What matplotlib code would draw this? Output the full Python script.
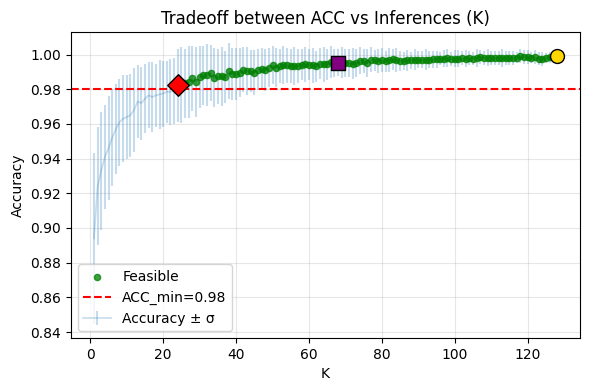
import numpy as np
import matplotlib
matplotlib.use("Agg")
import matplotlib.pyplot as plt

# mean accuracy per K (K = 1..128)
acc_mean = [
    0.894, 0.924, 0.933, 0.941, 0.946, 0.952, 0.957, 0.961, 0.963, 0.964,
    0.965, 0.968, 0.973, 0.972, 0.9745, 0.9765, 0.9755, 0.9765, 0.977, 0.9775,
    0.9785, 0.9785, 0.979, 0.9823, 0.9823, 0.9833, 0.9842, 0.9862, 0.9842, 0.9871,
    0.988, 0.9883, 0.9894, 0.9865, 0.9874, 0.9876, 0.9868, 0.9904, 0.9885, 0.9887,
    0.9896, 0.9913, 0.9906, 0.9904, 0.9894, 0.9913, 0.9915, 0.9912, 0.9925, 0.9938,
    0.9925, 0.9934, 0.9938, 0.9938, 0.9934, 0.9932, 0.9934, 0.9942, 0.9944, 0.9942,
    0.9938, 0.9932, 0.9948, 0.9944, 0.9944, 0.9957, 0.9953, 0.9954, 0.9953, 0.9953,
    0.9953, 0.9948, 0.9951, 0.9965, 0.9962, 0.9950, 0.9971, 0.9967, 0.9963, 0.9967,
    0.9962, 0.9967, 0.9973, 0.9967, 0.9963, 0.9962, 0.9967, 0.9967, 0.9971, 0.9971,
    0.9971, 0.9969, 0.9971, 0.9973, 0.9973, 0.9977, 0.9977, 0.9980, 0.9973, 0.9977,
    0.9977, 0.9978, 0.9976, 0.9978, 0.9977, 0.9979, 0.9986, 0.9980, 0.9981, 0.9979,
    0.9980, 0.9981, 0.9980, 0.9979, 0.9981, 0.9980, 0.9982, 0.9992, 0.9986, 0.9984,
    0.9982, 0.9984, 0.9977, 0.9973, 0.9980, 0.9984, 0.9985, 0.9991,
]

# standard deviation per K
acc_std = [
    0.0495, 0.034, 0.034, 0.030, 0.030, 0.028, 0.026, 0.025, 0.025, 0.024,
    0.024, 0.024, 0.021, 0.021, 0.020, 0.019, 0.020, 0.018, 0.020, 0.019,
    0.018, 0.019, 0.019, 0.021, 0.022, 0.020, 0.021, 0.019, 0.020, 0.018,
    0.017, 0.018, 0.016, 0.017, 0.016, 0.017, 0.015, 0.016, 0.015, 0.015,
    0.014, 0.013, 0.014, 0.012, 0.013, 0.012, 0.012, 0.012, 0.011, 0.011,
    0.011, 0.010, 0.011, 0.010, 0.010, 0.011, 0.010, 0.009, 0.010, 0.009,
    0.010, 0.009, 0.009, 0.010, 0.009, 0.009, 0.008, 0.008, 0.009, 0.008,
    0.008, 0.009, 0.008, 0.008, 0.007, 0.008, 0.007, 0.006, 0.007, 0.007,
    0.006, 0.007, 0.006, 0.007, 0.006, 0.005, 0.006, 0.005, 0.006, 0.005,
    0.005, 0.006, 0.005, 0.005, 0.005, 0.004, 0.005, 0.005, 0.004, 0.005,
    0.005, 0.004, 0.005, 0.004, 0.004, 0.005, 0.004, 0.004, 0.005, 0.004,
    0.004, 0.004, 0.005, 0.004, 0.004, 0.004, 0.003, 0.004, 0.004, 0.004,
    0.003, 0.004, 0.004, 0.004, 0.003, 0.003, 0.003, 0.003,
]

acc_min = 0.98
k_min_feasible = 24   # red diamond
k_knee = 68           # purple square
k_best = 128          # gold circle

K = np.arange(1, len(acc_mean) + 1)
acc = np.array(acc_mean)
std = np.array(acc_std)
feasible = acc >= acc_min


def pick(k):
    return K[k - 1], acc[k - 1]


fig, ax = plt.subplots(figsize=(5.9, 3.9), dpi=100)
fig.subplots_adjust(left=0.12, right=0.983, top=0.918, bottom=0.133)

ax.errorbar(K, acc, yerr=std, alpha=0.25, color="C0", linewidth=1.2,
            elinewidth=1.5, label="Accuracy ± σ")
ax.scatter(K[feasible], acc[feasible], s=20, color="green", alpha=0.75,
           label="Feasible", zorder=3)
ax.axhline(acc_min, color="red", linestyle="--", label=f"ACC_min={acc_min}")

x, y = pick(k_min_feasible)
ax.scatter([x], [y], marker="D", s=120, color="red", edgecolors="black", zorder=5)
x, y = pick(k_knee)
ax.scatter([x], [y], marker="s", s=90, color="purple", edgecolors="black", zorder=5)
x, y = pick(k_best)
ax.scatter([x], [y], marker="o", s=100, color="gold", edgecolors="black", zorder=5)

ax.set_ylim(0.8365, 1.013)
ax.set_title("Tradeoff between ACC vs Inferences (K)")
ax.set_xlabel("K")
ax.set_ylabel("Accuracy")
ax.grid(alpha=0.3)
ax.legend(loc="lower left")

fig.savefig("out.png")
